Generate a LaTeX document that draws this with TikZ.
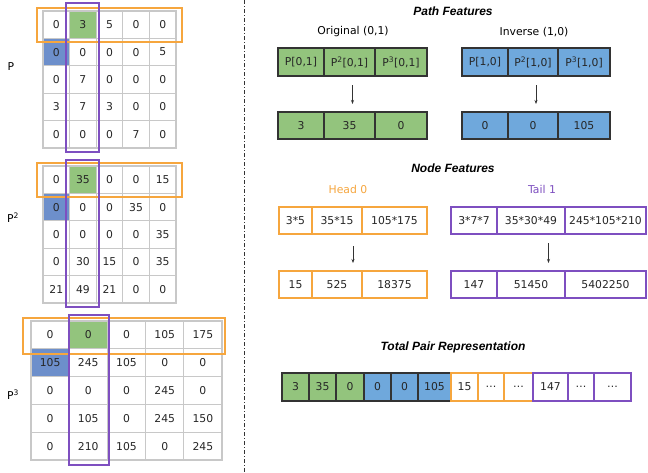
\documentclass[tikz,border=0pt]{standalone}
\usepackage{fontspec}
\setmainfont{DejaVu Sans}
\newfontfamily\titlefont{Liberation Sans}
\usetikzlibrary{calc,arrows.meta}
\definecolor{mgreen}{HTML}{93C47D}
\definecolor{mblue}{HTML}{6D8FCB}
\definecolor{fblue}{HTML}{6FA8DC}
\definecolor{morange}{HTML}{F6A63E}
\definecolor{mpurple}{HTML}{7E4FC0}
\definecolor{gridgray}{HTML}{C8C8C8}
\definecolor{darkline}{HTML}{333333}
\newcommand\mkcell[7]{\node[fcell,#6,minimum width={#3-#2},minimum height={#5-#4}] (#1) at ({(#2+#3)/2},{(#4+#5)/2}) {#7};}
\begin{document}
\begin{tikzpicture}[x=1pt,y=-1pt,
  font=\fontsize{10.8}{12}\selectfont,
  mcell/.style={draw=gridgray,line width=1.1pt,inner sep=0pt,outer sep=0pt,text=black!85},
  fcell/.style={line width=1.1pt,inner sep=0pt,outer sep=0pt,text=black!85},
  gbox/.style={draw=darkline,fill=mgreen},
  bbox/.style={draw=darkline,fill=fblue},
  obox/.style={draw=morange,fill=white},
  pbox/.style={draw=mpurple,fill=white},
  orow/.style={draw=morange,line width=1.2pt},
  pcol/.style={draw=mpurple,line width=1.2pt},
  title/.style={font=\titlefont\fontsize{12}{14}\selectfont\bfseries\itshape},
  arr/.style={-{Stealth[length=4pt,width=3pt]},line width=0.9pt,draw=darkline,shorten <=9pt,shorten >=8pt}]
\useasboundingbox (0,0) rectangle (648,472);
\fill[white] (0,0) rectangle (648,472);

% ---------- Matrix P ----------
\foreach \row [count=\r] in {{0,3,5,0,0},{0,0,0,0,5},{0,7,0,0,0},{3,7,3,0,0},{0,0,0,7,0}}{
  \foreach \v [count=\c] in \row {
    \ifnum\r\c=12 \def\cf{mgreen}\else\ifnum\r\c=21 \def\cf{mblue}\else\def\cf{white}\fi\fi
    \node[mcell,fill=\cf,minimum width=26.6pt,minimum height=27.4pt] (ma-\r-\c) at ({43+(\c-0.5)*26.6},{11+(\r-0.5)*27.4}) {\v};
  }
}
\draw[orow] (37,8) rectangle (182,42);
\draw[pcol] (66,3) rectangle (99,152);
\node (la) at (11,67) {P};

% ---------- Matrix P^2 ----------
\foreach \row [count=\r] in {{0,35,0,0,15},{0,0,0,35,0},{0,0,0,0,35},{0,30,15,0,35},{21,49,21,0,0}}{
  \foreach \v [count=\c] in \row {
    \ifnum\r\c=12 \def\cf{mgreen}\else\ifnum\r\c=21 \def\cf{mblue}\else\def\cf{white}\fi\fi
    \node[mcell,fill=\cf,minimum width=26.6pt,minimum height=27.4pt] (mb-\r-\c) at ({43+(\c-0.5)*26.6},{166+(\r-0.5)*27.4}) {\v};
  }
}
\draw[orow] (37,163) rectangle (182,197);
\draw[pcol] (66,160) rectangle (99,307);
\node (lb) at (13,218) {P\textsuperscript{2}};

% ---------- Matrix P^3 ----------
\foreach \row [count=\r] in {{0,0,0,105,175},{105,245,105,0,0},{0,0,0,245,0},{0,105,0,245,150},{0,210,105,0,245}}{
  \foreach \v [count=\c] in \row {
    \ifnum\r\c=12 \def\cf{mgreen}\else\ifnum\r\c=21 \def\cf{mblue}\else\def\cf{white}\fi\fi
    \node[mcell,fill=\cf,minimum width=38.2pt,minimum height=27.8pt] (mc-\r-\c) at ({31+(\c-0.5)*38.2},{321+(\r-0.5)*27.8}) {\v};
  }
}
\draw[orow] (23,318) rectangle (225,354);
\draw[pcol] (69,315) rectangle (109,465);
\node (lc) at (13,395) {P\textsuperscript{3}};

% ---------- divider ----------
\draw[line width=0.9pt,darkline,dash pattern=on 4pt off 2pt on 1pt off 2pt] (244,0) -- (244,472);

% ---------- Path features ----------
\node[title] (tpath) at (453,11) {Path Features};
\node (torig) at (353,32) {Original (0,1)};
\node (tinv) at (534,32) {Inverse (1,0)};
\mkcell{ga1}{278}{324}{48}{76}{gbox}{P[0,1]}
\mkcell{ga2}{324}{375}{48}{76}{gbox}{P\textsuperscript{2}[0,1]}
\mkcell{ga3}{375}{427}{48}{76}{gbox}{P\textsuperscript{3}[0,1]}
\mkcell{gb1}{278}{324}{112}{139}{gbox}{3}
\mkcell{gb2}{324}{375}{112}{139}{gbox}{35}
\mkcell{gb3}{375}{427}{112}{139}{gbox}{0}
\mkcell{ba1}{462}{508}{48}{76}{bbox}{P[1,0]}
\mkcell{ba2}{508}{558}{48}{76}{bbox}{P\textsuperscript{2}[1,0]}
\mkcell{ba3}{558}{610}{48}{76}{bbox}{P\textsuperscript{3}[1,0]}
\mkcell{bb1}{462}{508}{112}{139}{bbox}{0}
\mkcell{bb2}{508}{558}{112}{139}{bbox}{0}
\mkcell{bb3}{558}{610}{112}{139}{bbox}{105}
\coordinate (gac) at ($(ga1.south west)!0.5!(ga3.south east)$);
\coordinate (bac) at ($(ba1.south west)!0.5!(ba3.south east)$);
\draw[arr] (gac) -- (gac |- gb1.north);
\draw[arr] (bac) -- (bac |- bb1.north);

% ---------- Node features ----------
\node[title] (tnode) at (453,168) {Node Features};
\node[text=morange] (thead) at (348,189) {Head 0};
\node[text=mpurple] (ttail) at (542,189) {Tail 1};
\mkcell{oa1}{279}{312}{207}{234}{obox}{3*5}
\mkcell{oa2}{312}{362}{207}{234}{obox}{35*15}
\mkcell{oa3}{362}{427}{207}{234}{obox}{105*175}
\mkcell{ob1}{279}{312}{271}{298}{obox}{15}
\mkcell{ob2}{312}{362}{271}{298}{obox}{525}
\mkcell{ob3}{362}{427}{271}{298}{obox}{18375}
\mkcell{pa1}{451}{497}{207}{234}{pbox}{3*7*7}
\mkcell{pa2}{497}{565}{207}{234}{pbox}{35*30*49}
\mkcell{pa3}{565}{646}{207}{234}{pbox}{245*105*210}
\mkcell{pb1}{451}{497}{271}{298}{pbox}{147}
\mkcell{pb2}{497}{565}{271}{298}{pbox}{51450}
\mkcell{pb3}{565}{646}{271}{298}{pbox}{5402250}
\coordinate (oac) at ($(oa1.south west)!0.5!(oa3.south east)$);
\coordinate (pac) at ($(pa1.south west)!0.5!(pa3.south east)$);
\draw[arr,shorten <=12pt] (oac) -- (oac |- ob1.north);
\draw[arr] (pac) -- (pac |- pb1.north);

% ---------- Total pair representation ----------
\node[title] (ttotal) at (453,347) {Total Pair Representation};
\mkcell{t1}{282}{309}{373}{401}{gbox}{3}
\mkcell{t2}{309}{336}{373}{401}{gbox}{35}
\mkcell{t3}{336}{364}{373}{401}{gbox}{0}
\mkcell{t4}{364}{391}{373}{401}{bbox}{0}
\mkcell{t5}{391}{418}{373}{401}{bbox}{0}
\mkcell{t6}{418}{451}{373}{401}{bbox}{105}
\mkcell{t7}{451}{478}{373}{401}{obox}{15}
\mkcell{t8}{478}{504}{373}{401}{obox}{\dots}
\mkcell{t9}{504}{533}{373}{401}{obox}{\dots}
\mkcell{t10}{533}{568}{373}{401}{pbox}{147}
\mkcell{t11}{568}{594}{373}{401}{pbox}{\dots}
\mkcell{t12}{594}{631}{373}{401}{pbox}{\dots}
\end{tikzpicture}
\end{document}
